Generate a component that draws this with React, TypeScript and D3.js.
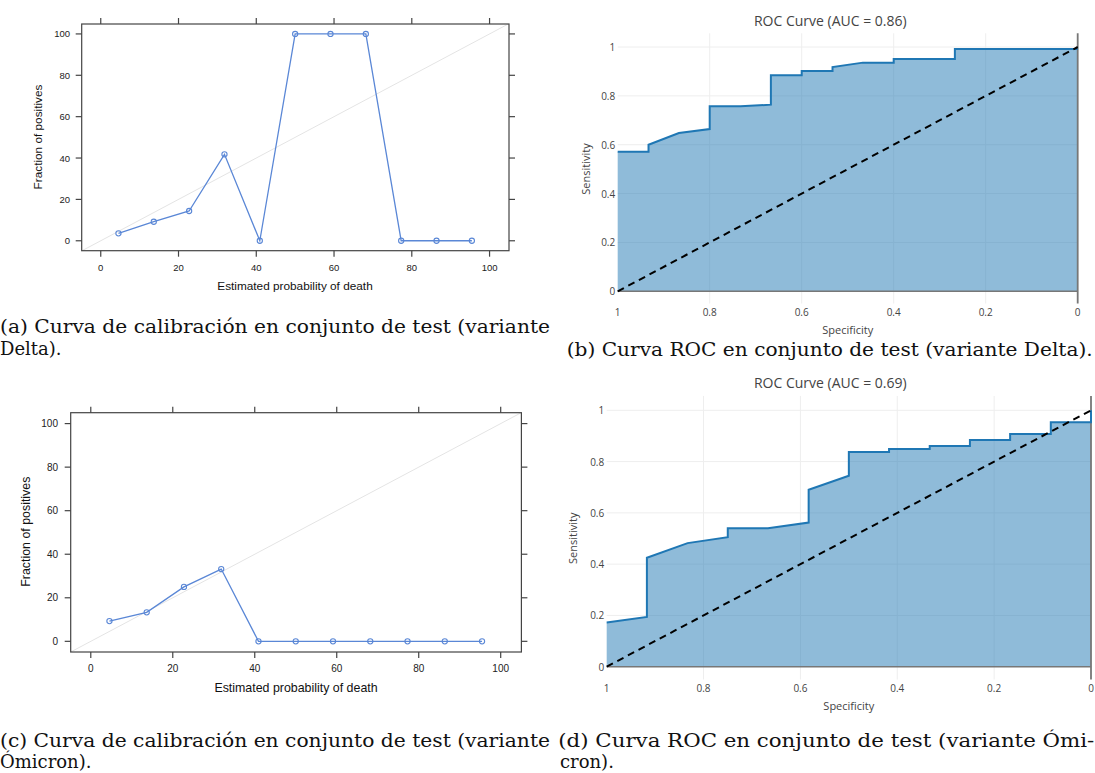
import React from "react";
import * as d3 from "d3";

// ---------- data ----------
const calibX = [4.55, 13.64, 22.73, 31.82, 40.91, 50.0, 59.09, 68.18, 77.27, 86.36, 95.45];
const calibDeltaY = [3.6, 9.2, 14.4, 41.8, 0, 100, 100, 100, 0, 0, 0];
const calibOmicronY = [9.3, 13.3, 25.0, 33.2, 0, 0, 0, 0, 0, 0, 0];
const calibTicks = [0, 20, 40, 60, 80, 100];

const rocDeltaSpec = [1, 0.933, 0.933, 0.867, 0.8, 0.8, 0.733, 0.667, 0.667, 0.6, 0.6, 0.533, 0.533, 0.467, 0.4, 0.4, 0.267, 0.267, 0];
const rocDeltaSens = [0.571, 0.571, 0.6, 0.648, 0.664, 0.757, 0.757, 0.764, 0.884, 0.884, 0.902, 0.902, 0.918, 0.936, 0.936, 0.951, 0.951, 0.992, 0.992];

const rocOmicronSpec = [1, 0.917, 0.917, 0.833, 0.75, 0.75, 0.667, 0.583, 0.583, 0.5, 0.5, 0.417, 0.417, 0.333, 0.333, 0.25, 0.25, 0.167, 0.167, 0.083, 0.083, 0, 0];
const rocOmicronSens = [0.172, 0.194, 0.425, 0.482, 0.505, 0.54, 0.54, 0.562, 0.69, 0.745, 0.837, 0.837, 0.849, 0.849, 0.861, 0.861, 0.884, 0.884, 0.908, 0.908, 0.953, 0.953, 1.0];

const rocTicks = [1, 0.8, 0.6, 0.4, 0.2, 0];
const rocGrid = [0.2, 0.4, 0.6, 0.8, 1];

const titleDelta = "ROC Curve (AUC = 0.86)";
const titleOmicron = "ROC Curve (AUC = 0.69)";

// ---------- components ----------
const SANS = "'Liberation Sans', Arial, sans-serif";
const PLOTLY = "'Open Sans', Verdana, sans-serif";
const SERIF = "'DejaVu Serif', serif";

type CalibProps = {
  ys: number[]; l: number; r: number; t: number; b: number;
  xd: [number, number]; yd: [number, number];
  tickFs: number; titleFs: number; ylabX: number; ytitleX: number; ytitleY: number;
  xlabY: number; xtitleY: number; xtitleX: number;
};

function Calib(p: CalibProps) {
  const x = d3.scaleLinear().domain(p.xd).range([p.l, p.r]);
  const y = d3.scaleLinear().domain(p.yd).range([p.b, p.t]);
  const line = d3.line<number>().x((_, i) => x(calibX[i])).y((d) => y(d));
  const lo = Math.max(p.xd[0], p.yd[0]);
  const hi = Math.min(p.xd[1], p.yd[1]);
  const tk = 6;
  const col = "#5a87d6";
  return (
    <g>
      <line x1={x(lo)} y1={y(lo)} x2={x(hi)} y2={y(hi)} stroke="#e4e4e4" strokeWidth={1} />
      <rect x={p.l} y={p.t} width={p.r - p.l} height={p.b - p.t} fill="none" stroke="#444" strokeWidth={1.2} />
      {calibTicks.map((v) => (
        <g key={"x" + v}>
          <line x1={x(v)} x2={x(v)} y1={p.b} y2={p.b + tk} stroke="#444" strokeWidth={1.2} />
          <line x1={x(v)} x2={x(v)} y1={p.t} y2={p.t - tk} stroke="#444" strokeWidth={1.2} />
          <text x={x(v)} y={p.xlabY} fontSize={p.tickFs} textAnchor="middle" dominantBaseline="central" fill="#222" fontFamily={SANS}>{v}</text>
          <line y1={y(v)} y2={y(v)} x1={p.l} x2={p.l - tk} stroke="#444" strokeWidth={1.2} />
          <line y1={y(v)} y2={y(v)} x1={p.r} x2={p.r + tk} stroke="#444" strokeWidth={1.2} />
          <text x={p.ylabX} y={y(v)} fontSize={p.tickFs} textAnchor="end" dominantBaseline="central" fill="#222" fontFamily={SANS}>{v}</text>
        </g>
      ))}
      <path d={line(p.ys) || ""} fill="none" stroke={col} strokeWidth={1.3} />
      {p.ys.map((v, i) => (
        <circle key={i} cx={x(calibX[i])} cy={y(v)} r={2.6} fill="none" stroke={col} strokeWidth={1.1} />
      ))}
      <text x={p.xtitleX} y={p.xtitleY} fontSize={p.titleFs} textAnchor="middle" dominantBaseline="central" fill="#111" fontFamily={SANS}>Estimated probability of death</text>
      <text transform={`translate(${p.ytitleX},${p.ytitleY}) rotate(-90)`} fontSize={p.titleFs} textAnchor="middle" dominantBaseline="central" fill="#111" fontFamily={SANS}>Fraction of positives</text>
    </g>
  );
}

type RocProps = {
  spec: number[]; sens: number[]; title: string;
  x1: number; x0: number; y0: number; y1: number;
  titleX: number; titleY: number; ytitleX: number; ytitleY: number;
};

function Roc(p: RocProps) {
  const x = d3.scaleLinear().domain([1, 0]).range([p.x1, p.x0]);
  const y = d3.scaleLinear().domain([0, 1]).range([p.y0, p.y1]);
  const top = y(1.056);
  const bottom = y(-0.05);
  const idx = p.spec.map((_, i) => i);
  const area = d3.area<number>().x((i) => x(p.spec[i])).y0(y(0)).y1((i) => y(p.sens[i]));
  const line = d3.line<number>().x((i) => x(p.spec[i])).y((i) => y(p.sens[i]));
  const fmt = (v: number) => (v === 0 || v === 1 ? String(v) : v.toFixed(1));
  return (
    <g fontFamily={PLOTLY}>
      <text x={p.titleX} y={p.titleY} fontSize={14} textAnchor="middle" dominantBaseline="central" fill="#444">{p.title}</text>
      {rocTicks.filter((v) => v !== 0 && v !== 1).map((v) => (
        <line key={"gx" + v} x1={x(v)} x2={x(v)} y1={top} y2={bottom} stroke="#eee" strokeWidth={1} />
      ))}
      {rocGrid.map((v) => (
        <line key={"gy" + v} x1={p.x1} x2={p.x0} y1={y(v)} y2={y(v)} stroke="#eee" strokeWidth={1} />
      ))}
      <path d={area(idx) || ""} fill="rgba(31,119,180,0.5)" stroke="none" />
      <line x1={p.x1} x2={p.x0} y1={y(0)} y2={y(0)} stroke="#777" strokeWidth={1.5} />
      <line x1={x(0)} x2={x(0)} y1={top} y2={bottom} stroke="#777" strokeWidth={1.8} />
      <path d={line(idx) || ""} fill="none" stroke="rgb(31,119,180)" strokeWidth={2} />
      <line x1={x(1)} y1={y(0)} x2={x(0)} y2={y(1)} stroke="#000" strokeWidth={2} strokeDasharray="7,5" />
      {rocTicks.map((v) => (
        <text key={"tx" + v} x={x(v)} y={bottom + 8.3} fontSize={10} textAnchor="middle" dominantBaseline="central" fill="#444">{fmt(v)}</text>
      ))}
      {[0, ...rocGrid].map((v) => (
        <text key={"ty" + v} x={p.x1 - 2.5} y={y(v)} fontSize={10} textAnchor="end" dominantBaseline="central" fill="#444">{fmt(v)}</text>
      ))}
      <text x={(p.x1 + p.x0) / 2} y={bottom + 25.5} fontSize={11} textAnchor="middle" dominantBaseline="central" fill="#444">Specificity</text>
      <text transform={`translate(${p.ytitleX},${p.ytitleY}) rotate(-90)`} fontSize={11} textAnchor="middle" dominantBaseline="central" fill="#444">Sensitivity</text>
    </g>
  );
}

function Cap({ x, y, w, children }: { x: number; y: number; w?: number; children: string }) {
  return (
    <text x={x} y={y} fontSize={18} fontFamily={SERIF} fill="#111"
      {...(w ? { textLength: w, lengthAdjust: "spacingAndGlyphs" } : {})}>{children}</text>
  );
}

export default function App() {
  return (
    <svg width={1095} height={773} style={{ position: "absolute", left: 0, top: 0, background: "#fff" }}>
      <Calib ys={calibDeltaY} l={81.7} r={509} t={24} b={250.7} xd={[-4.9, 105.0]} yd={[-4.8, 104.8]}
        tickFs={9.5} titleFs={11.8} ylabX={70} ytitleX={38.3} ytitleY={137} xlabY={267} xtitleY={286} xtitleX={295} />
      <Calib ys={calibOmicronY} l={70.7} r={521.4} t={412.7} b={652} xd={[-4.9, 105.05]} yd={[-4.9, 105.0]}
        tickFs={10} titleFs={12.4} ylabX={58} ytitleX={26} ytitleY={531.7} xlabY={668.3} xtitleY={688.3} xtitleX={296} />
      <Roc spec={rocDeltaSpec} sens={rocDeltaSens} title={titleDelta} x1={617.7} x0={1077.7} y0={291.3} y1={47}
        titleX={830.3} titleY={20} ytitleX={585.3} ytitleY={169} />
      <Roc spec={rocOmicronSpec} sens={rocOmicronSens} title={titleOmicron} x1={606.7} x0={1091} y0={666.7} y1={410.3}
        titleX={830.3} titleY={382.3} ytitleX={572} ytitleY={538.3} />
      <Cap x={0} y={333} w={550}>(a) Curva de calibración en conjunto de test (variante</Cap>
      <Cap x={0} y={355}>Delta).</Cap>
      <Cap x={566.7} y={356} w={526}>(b) Curva ROC en conjunto de test (variante Delta).</Cap>
      <Cap x={0} y={747} w={550}>(c) Curva de calibración en conjunto de test (variante</Cap>
      <Cap x={0} y={768}>Ómicron).</Cap>
      <Cap x={558.3} y={747} w={536}>(d) Curva ROC en conjunto de test (variante Ómi-</Cap>
      <Cap x={560} y={768}>cron).</Cap>
    </svg>
  );
}
